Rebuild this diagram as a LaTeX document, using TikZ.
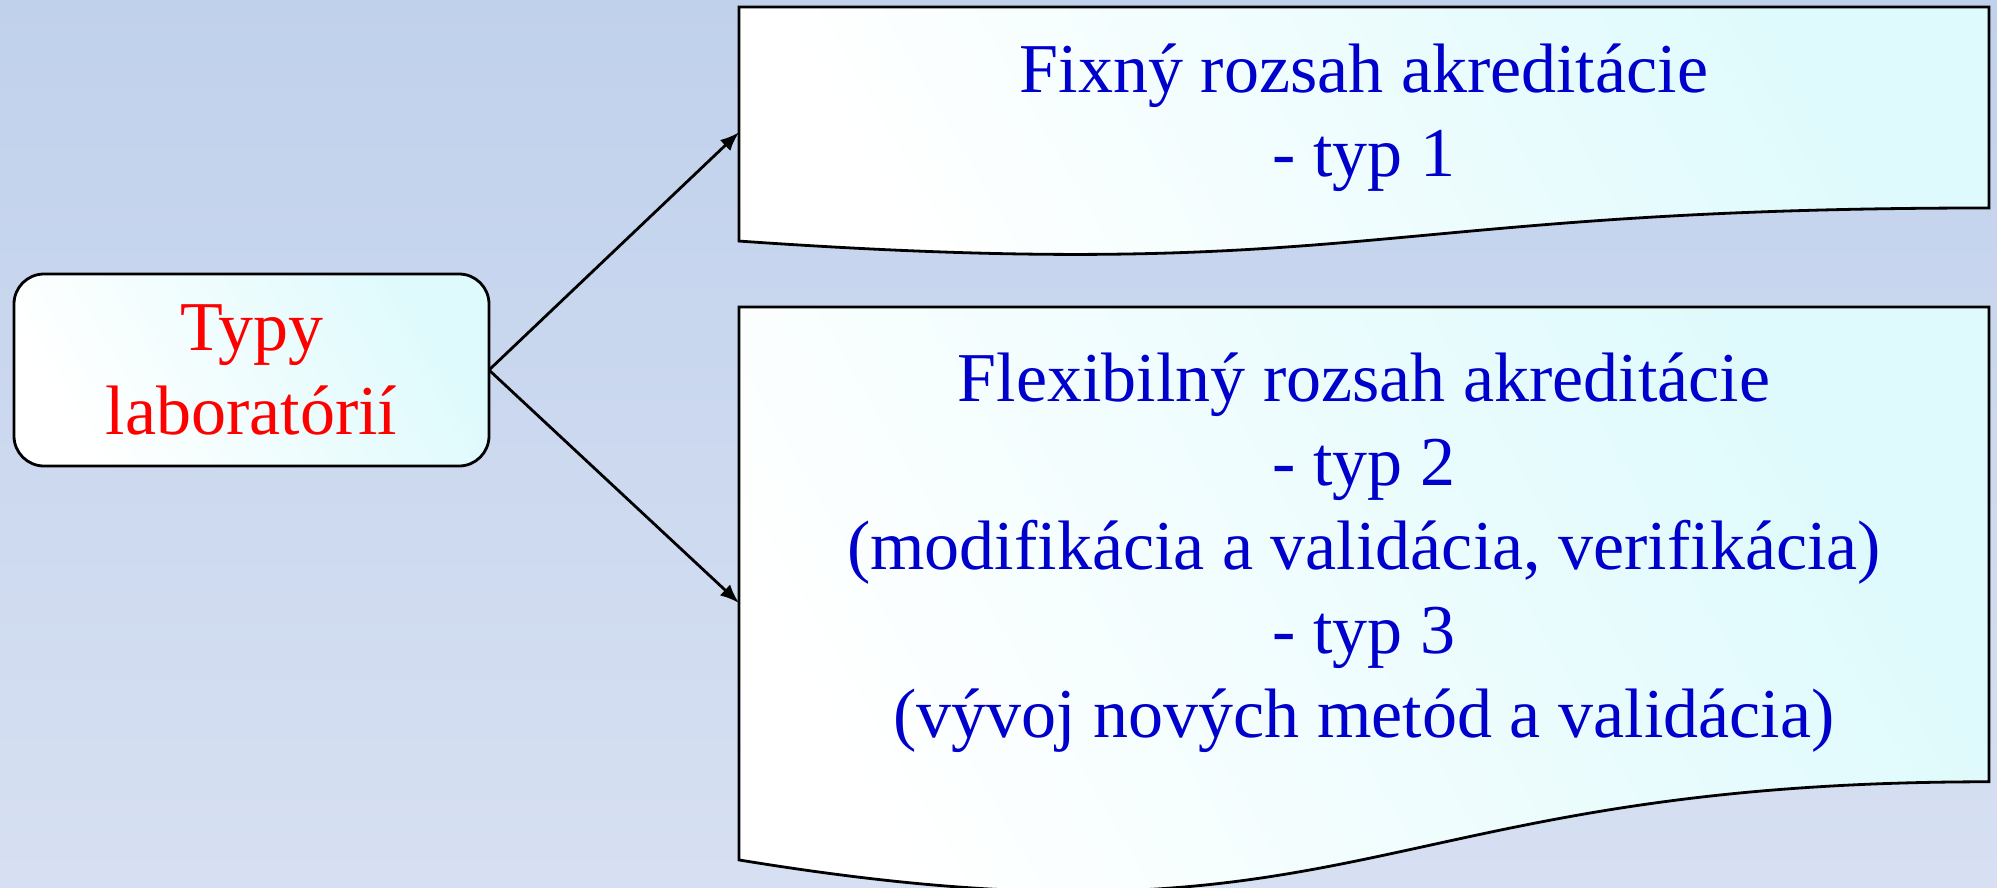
\documentclass[tikz,border=0pt]{standalone}
\usepackage{fontspec}
\setmainfont{Liberation Serif}
\usetikzlibrary{arrows.meta,calc}
\definecolor{bgtop}{HTML}{C0D1EC}
\definecolor{bgbot}{HTML}{D7E0F2}
\definecolor{boxcyan}{HTML}{DEFAFC}
\definecolor{txtblue}{HTML}{0000CC}
\definecolor{txtred}{HTML}{FF0000}
\begin{document}
\begin{tikzpicture}[x=1pt,y=-1pt,
  boxfill/.style={top color=boxcyan,bottom color=white,shading angle=-60},
  outline/.style={draw=black,line width=2.8pt},
  doc/.style={minimum width=1250pt,inner sep=0pt,outer sep=0pt,anchor=north west},
  bigfont/.style={font=\fontsize{70}{84}\selectfont,align=center},
  bluetext/.style={bigfont,text=txtblue,anchor=base,inner sep=0pt},
  conn/.style={line width=2.8pt,-{Latex[length=19pt,width=15pt]}},
]
\shade[top color=bgtop,bottom color=bgbot] (0,0) rectangle (1997,888);
\useasboundingbox (0,0) rectangle (1997,888);

\node[outline,boxfill,rounded corners=30pt,minimum width=475pt,minimum height=192pt,
      bigfont,text=txtred,inner sep=0pt,outer sep=0pt] (typy) at (251.5,370) {Typy\\laboratórií};

\node[doc,minimum height=250.6pt] (fix) at (739,7) {};
\node[doc,minimum height=592pt] (flex) at (739,307) {};

\path[outline,boxfill] (fix.north west) -- (fix.north east)
  -- ($(fix.north east)!0.802!(fix.south east)$)
  .. controls ($(fix.north)!0.802!(fix.south)$) and ($(fix.north)!1.1075!(fix.south)$)
  .. ($(fix.north west)!0.934!(fix.south west)$) -- cycle;
\path[outline,boxfill] (flex.north west) -- (flex.north east)
  -- ($(flex.north east)!0.802!(flex.south east)$)
  .. controls ($(flex.north)!0.802!(flex.south)$) and ($(flex.north)!1.1075!(flex.south)$)
  .. ($(flex.north west)!0.934!(flex.south west)$) -- cycle;

\node[bluetext] (fixtxt) at (1364,176) {Fixný rozsah akreditácie\\- typ 1};
\node[bluetext] (flextxt) at (1364,737) {Flexibilný rozsah akreditácie\\- typ 2\\(modifikácia a validácia, verifikácia)\\- typ 3\\(vývoj nových metód a validácia)};

\draw[conn] (typy.east) -- (fix.west);
\draw[conn] (typy.east) -- (flex.west);
\end{tikzpicture}
\end{document}
